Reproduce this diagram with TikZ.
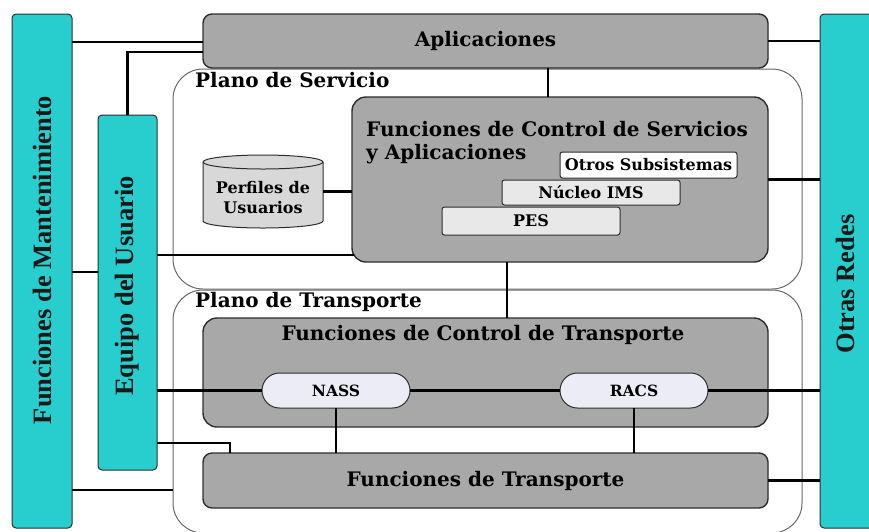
\documentclass[tikz,border=0pt]{standalone}
\usepackage{fontspec}
\setmainfont{DejaVu Serif}
\newfontfamily\vfont{Liberation Serif}
\usetikzlibrary{shapes.misc}
\definecolor{tealbar}{RGB}{40,206,206}
\definecolor{boxgray}{RGB}{168,168,168}
\definecolor{cylgray}{RGB}{216,216,216}
\definecolor{lgray}{RGB}{232,232,232}
\definecolor{lav}{RGB}{236,236,246}
\definecolor{edge}{RGB}{45,45,45}
\tikzset{
  bar/.style={draw=edge, fill=tealbar, rounded corners=4pt, line width=1pt, inner sep=0pt, outer sep=0pt},
  gbox/.style={draw=edge, fill=boxgray, line width=1.4pt, rounded corners=14pt, inner sep=0pt, outer sep=0pt},
  plane/.style={draw=black!60, line width=1pt, rounded corners=30pt, inner sep=0pt, outer sep=0pt},
  sbox/.style={draw=edge, line width=1pt, rounded corners=2.5pt, inner sep=0pt, outer sep=0pt, font=\smallfont},
  pill/.style={rounded rectangle, draw=edge, fill=lav, line width=1pt, inner sep=0pt, outer sep=0pt, font=\pillfont},
  conn/.style={line width=2.2pt, black},
  bigtxt/.style={font=\bigfont, inner sep=0pt},
  vtxt/.style={rotate=90, font=\vfont\bfseries\fontsize{26.5}{30}\selectfont, inner sep=0pt, text=black!90}
}
\newcommand{\bigfont}{\bfseries\fontsize{20}{23.5}\selectfont}
\newcommand{\smallfont}{\bfseries\fontsize{16}{20}\selectfont}
\newcommand{\pillfont}{\bfseries\fontsize{15.5}{18}\selectfont}
\begin{document}
\begin{tikzpicture}[x=1pt,y=-1pt]
\useasboundingbox (0,0) rectangle (869,531);
% planes
\node[plane, minimum width=629, minimum height=220] (pserv) at (487.5,179) {};
\node[plane, minimum width=629, minimum height=243] (ptrans) at (487.5,411.5) {};
% side bars
\node[bar, minimum width=60, minimum height=514] (mant) at (42,271) {};
\node[bar, minimum width=59, minimum height=355] (equipo) at (127.5,292.5) {};
\node[bar, minimum width=60, minimum height=514] (otras) at (850,271) {};
\node[vtxt] (tmant) at (42,260) {Funciones de Mantenimiento};
\node[vtxt] (tequipo) at (127.5,286) {Equipo del Usuario};
\node[vtxt] (totras) at (845,284) {Otras Redes};
% main boxes
\node[gbox, rounded corners=9pt, minimum width=565, minimum height=54, font=\bigfont] (apps) at (485.5,41) {Aplicaciones};
\node[gbox, minimum width=416, minimum height=165] (fcsa) at (560,179.5) {};
\node[gbox, minimum width=565, minimum height=109] (fct) at (485.5,372.5) {};
\node[gbox, rounded corners=9pt, minimum width=565, minimum height=55, font=\bigfont] (ft) at (485.5,480.5) {Funciones de Transporte};
% plane labels
\node[bigtxt, anchor=west] (lserv) at (195,80) {Plano de Servicio};
\node[bigtxt, anchor=west] (ltrans) at (195,302) {Plano de Transporte};
\node[bigtxt, anchor=north west, align=left] (tfcsa) at (366,121) {Funciones de Control de Servicios\\y Aplicaciones};
\node[bigtxt] (tfct) at (483,335) {Funciones de Control de Transporte};
% user profiles cylinder
\node[minimum width=120, minimum height=73, inner sep=0pt, outer sep=0pt] (perf) at (263,191.5) {};
\path[draw=edge, fill=cylgray, line width=1pt]
  ([yshift=-7pt]perf.north west) -- ([yshift=7pt]perf.south west)
  arc[start angle=180, end angle=360, x radius=60pt, y radius=7pt]
  -- ([yshift=-7pt]perf.north east)
  arc[start angle=0, end angle=180, x radius=60pt, y radius=7pt] -- cycle;
\draw[edge, line width=1pt] ([yshift=-7pt]perf.north west) arc[start angle=180, end angle=360, x radius=60pt, y radius=7pt];
\node[align=center, font=\smallfont, inner sep=0pt] (tperf) at (263,198) {Perfiles de\\Usuarios};
% inner subsystems
\node[sbox, fill=white, minimum width=177, minimum height=26] (otros) at (648.5,165) {Otros Subsistemas};
\node[sbox, fill=lgray, minimum width=178, minimum height=25] (nucleo) at (591,192.5) {Núcleo IMS};
\node[sbox, fill=lgray, minimum width=178, minimum height=28] (pes) at (531,221) {PES};
% NASS / RACS
\node[pill, minimum width=148, minimum height=35] (nass) at (336,390.5) {NASS};
\node[pill, minimum width=148, minimum height=35] (racs) at (634,390.5) {RACS};
% connectors
\draw[conn] (mant.east |- 0,42) -- (apps.west |- 0,42);
\draw[conn] (equipo.north) |- (apps.west |- 0,52);
\draw[conn] ([xshift=62.5pt]apps.south) -- ([xshift=62.5pt]apps.south |- fcsa.north);
\draw[conn] (apps.east) -- (apps.east -| otras.west);
\draw[conn] (fcsa.east) -- (fcsa.east -| otras.west);
\draw[conn] (perf.east) -- (perf.east -| fcsa.west);
\draw[conn] (equipo.east |- 0,255) -- ([xshift=2pt]fcsa.west |- 0,255);
\draw[conn] (mant.east |- 0,272) -- (equipo.west |- 0,272);
\draw[conn] (fcsa.south -| 507,0) -- (fct.north -| 507,0);
\draw[conn] (equipo.east |- nass.west) -- (nass.west);
\draw[conn] (nass.east) -- (racs.west);
\draw[conn] (racs.east) -- (racs.east -| otras.west);
\draw[conn] (nass.south) -- (nass.south |- ft.north);
\draw[conn] (racs.south) -- (racs.south |- ft.north);
\draw[conn] (equipo.east |- 0,443) -| (ft.north -| 230,0);
\draw[conn] (mant.east |- 0,490) -- (ptrans.west |- 0,490);
\draw[conn] (ft.east) -- (ft.east -| otras.west);
\end{tikzpicture}
\end{document}
